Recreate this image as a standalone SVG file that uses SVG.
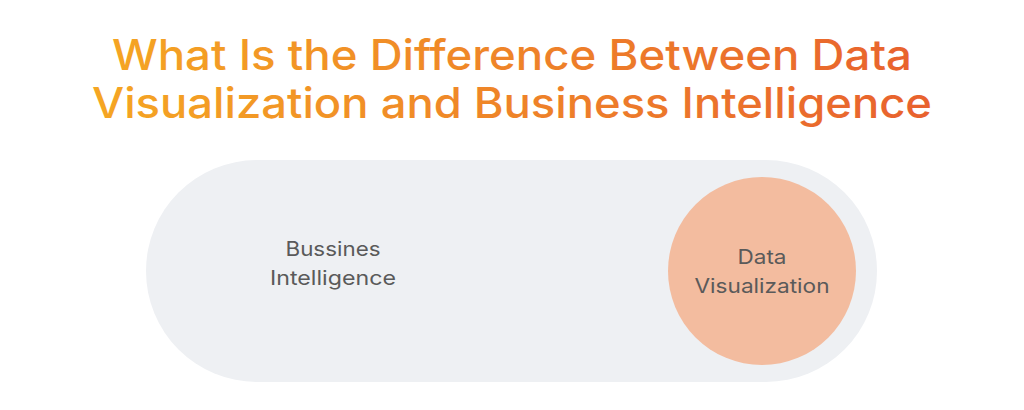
<svg xmlns="http://www.w3.org/2000/svg" width="1024" height="410" viewBox="0 0 1024 410">
  <defs>
    <linearGradient id="tg" x1="90" y1="0" x2="935" y2="0" gradientUnits="userSpaceOnUse">
      <stop offset="0" stop-color="#F5A623"/>
      <stop offset="1" stop-color="#E8612E"/>
    </linearGradient>
    <style>
      .title { font-family: "Inter", "DejaVu Sans", sans-serif; font-size: 42px; font-weight: 500; fill: url(#tg); }
      .label { font-family: "Inter", "DejaVu Sans", sans-serif; font-size: 20px; fill: #5a5a5a; }
    </style>
  </defs>
  <rect width="1024" height="410" fill="#ffffff"/>
  <g id="title">
    <text class="title" x="512" y="70" text-anchor="middle" textLength="800" lengthAdjust="spacingAndGlyphs">What Is the Difference Between Data</text>
    <text class="title" x="512" y="118" text-anchor="middle" textLength="840" lengthAdjust="spacingAndGlyphs">Visualization and Business Intelligence</text>
  </g>
  <g id="business-intelligence">
    <rect x="146" y="160" width="731" height="222" rx="111" ry="111" fill="#EEF0F3"/>
    <text class="label" x="333" y="256" text-anchor="middle" textLength="95" lengthAdjust="spacingAndGlyphs">Bussines</text>
    <text class="label" x="333" y="285" text-anchor="middle" textLength="126" lengthAdjust="spacingAndGlyphs">Intelligence</text>
  </g>
  <g id="data-visualization">
    <circle cx="762" cy="271" r="94" fill="#F3BC9F"/>
    <text class="label" x="762" y="264" text-anchor="middle" textLength="49" lengthAdjust="spacingAndGlyphs">Data</text>
    <text class="label" x="762" y="293" text-anchor="middle" textLength="135" lengthAdjust="spacingAndGlyphs">Visualization</text>
  </g>
  <g id="connectors"/>
</svg>
